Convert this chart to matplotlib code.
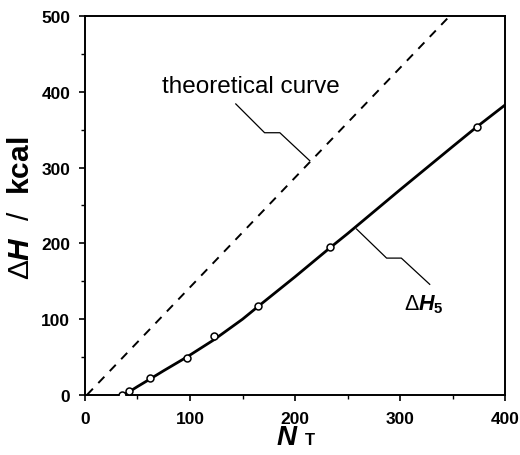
import matplotlib
matplotlib.use("Agg")
import matplotlib.pyplot as plt

plt.rcParams['font.family'] = ['Liberation Sans', 'DejaVu Sans']
plt.rcParams['mathtext.fontset'] = 'custom'
plt.rcParams['mathtext.rm'] = 'Liberation Sans:bold'
plt.rcParams['mathtext.it'] = 'Liberation Sans:italic:bold'
plt.rcParams['mathtext.bf'] = 'Liberation Sans:bold'
plt.rcParams['mathtext.sf'] = 'Liberation Sans'

# measured points (Delta H5)
pts_x = [35, 42, 62, 97, 123, 165, 233, 373]
pts_y = [0, 5, 22, 49, 78, 117, 195, 354]

# fitted solid curve
curve_x = [36, 42, 50, 62, 75, 97, 123, 150, 165, 200, 233, 250, 300, 350, 373, 400]
curve_y = [0, 4, 11, 21, 32, 50, 73, 100, 117, 156, 194, 213, 271, 328, 354, 383]

# theoretical curve
theory_x = [2, 347]
theory_y = [0, 500]

xticks = [0, 100, 200, 300, 400]
yticks = [0, 100, 200, 300, 400, 500]

fig = plt.figure(figsize=(5.2, 4.56), dpi=100)
ax = fig.add_axes([0.163, 0.1316, 0.809, 0.8311])

ax.plot(theory_x, theory_y, color='black', lw=1.4, ls=(0, (4.5, 4)))
ax.plot(curve_x, curve_y, color='black', lw=2.0, solid_capstyle='butt')
ax.plot(pts_x, pts_y, ls='none', marker='o', ms=5, mfc='white', mec='black', mew=1.1, zorder=5)

ax.set_xlim(0, 400)
ax.set_ylim(0, 500)
ax.set_xticks(xticks)
ax.set_yticks(yticks)
ax.set_xticks([50, 150, 250, 350], minor=True)
ax.set_yticks([50, 150, 250, 350, 450], minor=True)
ax.tick_params(which='major', direction='out', length=4, width=1.2, labelsize=12.5)
ax.tick_params(axis='y', which='major', pad=6.5)
ax.tick_params(axis='x', which='major', pad=7.5)
ax.tick_params(which='minor', direction='out', length=3, width=1.0)
for lab in ax.get_xticklabels() + ax.get_yticklabels():
    lab.set_fontweight('bold')
for s in ax.spines.values():
    s.set_linewidth(1.4)

# axis labels
fig.text(0.040, 0.543, r'$\mathsf{\Delta}\mathit{H}\ \ \mathsf{/}\ \ \mathrm{kcal}$', rotation=90,
         ha='center', va='center', fontsize=21.5)
fig.text(276/520, 1 - 445/456, r'$\mathit{N}$', ha='left', va='baseline', fontsize=20)
fig.text(305/520, 1 - 445/456, 'T', ha='left', va='baseline', fontsize=12, fontweight='bold')

# annotations
ax.text(73, 400, 'theoretical curve', ha='left', va='baseline', fontsize=17.5)
ax.plot([143.6, 171, 185.5, 214], [384, 346, 346, 309], color='black', lw=0.9)

ax.text(304, 113.5, r'$\mathsf{\Delta}\mathit{H}_{5}$', fontsize=15.5, ha='left', va='baseline')
ax.plot([258.4, 287, 301, 328], [219, 180.6, 180.6, 146], color='black', lw=0.9)

fig.savefig('out.png', dpi=100)
